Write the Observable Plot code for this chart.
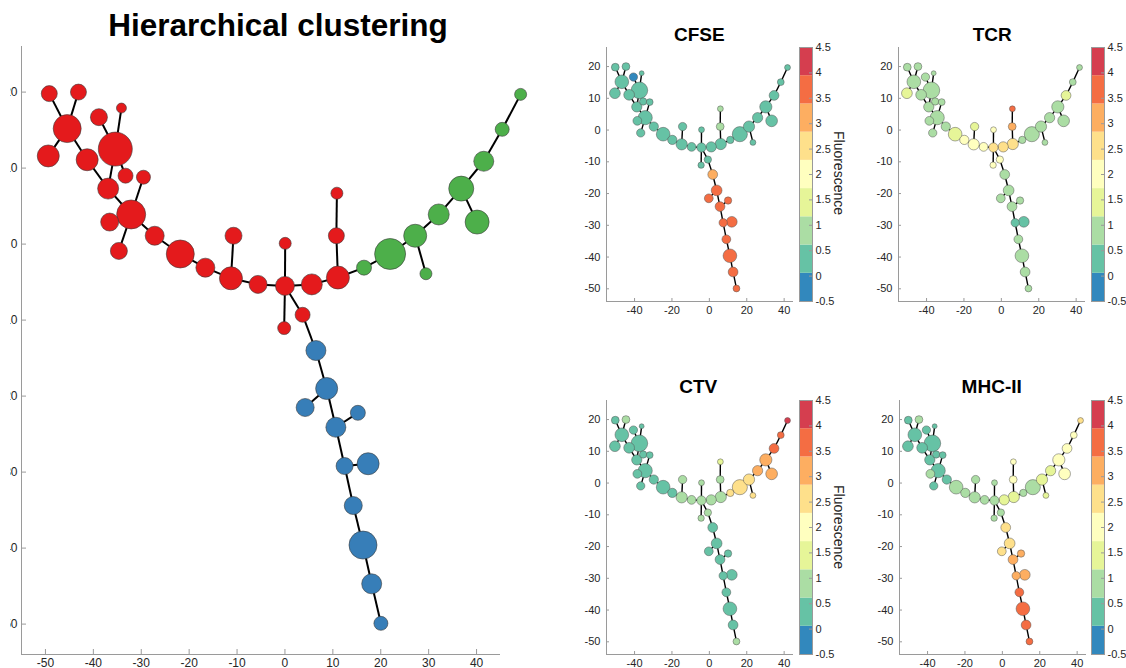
<!DOCTYPE html>
<html><head><meta charset="utf-8">
<script src="https://cdn.jsdelivr.net/npm/d3@7"></script>
<script src="https://cdn.jsdelivr.net/npm/@observablehq/plot@0.6"></script>
<style>
html,body{margin:0;padding:0;background:#fff;}
#root{position:relative;width:1126px;height:668px;overflow:hidden;background:#fff;font-family:"Liberation Sans",Arial,Helvetica,sans-serif;}
#root svg{position:absolute;overflow:visible;max-width:none;}
.ttl{position:absolute;text-align:center;white-space:nowrap;color:#000;font-weight:bold;width:600px;}
.clip{position:absolute;overflow:hidden;}
.cblab{position:absolute;white-space:nowrap;color:#262626;font-size:14px;transform:translate(-50%,-50%) rotate(90deg);}
</style></head><body><div id="root"></div>
<script>
// ---------------- data ----------------
const ids = ["n1","n2","n3","n4","n5","n6","n7","n8","n9","n10","n11","n12","n13","n14","n15","n16","n17","n18","n19","n20",
  "n21","n22","n23","n24","n25","n26","n27","n28","n29","n30","n31","n32","n33","n34","n35","n36","n37","n38",
  "b1","b2","b3","b4","b5","b6","b7","b8","b9","b10","b11"];
const nodeX = [-50.3,-44.6,-40.6,-36.2,-46.8,-37.4,-50.5,-42.9,-35.4,-31.9,-38.8,-34.3,-38.5,-36.7,-29.7,-24.7,-19.8,-14.3,-14.8,-9.5,
  -4.2,-4.25,-4.4,-0.8,1.0,6.1,5.8,5.9,11.2,16.3,21.2,23.3,25.8,30.2,33.3,34.6,38.2,41.8,
  1.8,3.9,-0.3,5.7,10.0,7.4,12.0,9.1,11.0,12.7,14.5];
const nodeY = [19.8,20.0,16.7,17.9,15.2,12.5,11.6,11.1,9.0,8.8,7.3,3.9,2.9,-0.9,1.1,-1.3,-3.1,1.1,-4.5,-5.3,
  0.1,-5.5,-11.05,-9.3,-5.3,-4.4,1.1,6.7,-3.1,-1.3,1.1,-3.9,3.9,7.3,2.9,10.9,15.1,19.7,
  -14.0,-19.0,-21.5,-24.1,-22.2,-29.2,-28.9,-34.4,-39.6,-44.7,-49.9];
const nodeSize = [8,8,8.5,5,14,17,11,11,7.5,7,10.5,14.5,9,8.5,9.5,14,9.5,8.5,11.5,9,
  6,9.5,6.5,7.5,10.5,11.5,8,6,7.5,15.5,11.5,6,10.5,12.5,12,10,7,6,
  10,11,9,10,7.5,8.5,11,9,14,10,7];
const nodeCluster = [...Array(28).fill("Cluster 1"), ...Array(10).fill("Cluster 2"), ...Array(11).fill("Cluster 3")];
const cfse = [0.3,0.35,-0.1,0.3,0.4,0.35,0.3,0.4,0.3,0.35,0.4,0.35,0.3,0.3,0.35,0.4,0.35,0.3,0.4,0.35,
  0.3,0.4,0.3,0.35,0.4,0.45,0.8,0.75,0.4,0.45,0.4,0.3,0.4,0.4,0.35,0.3,0.35,0.3,
  3.0,3.6,3.5,3.6,3.5,3.7,3.6,3.7,3.7,3.75,3.8];
const tcr = [0.9,0.85,0.8,0.8,0.9,0.85,1.4,0.9,0.9,0.85,0.9,0.95,0.9,0.85,0.9,1.5,1.9,1.45,2.0,1.95,
  2.1,2.6,2.0,2.05,2.6,2.7,3.0,3.6,1.0,0.95,0.9,0.85,0.9,0.95,0.9,1.4,0.9,0.85,
  0.9,0.9,0.85,0.85,0.8,0.5,0.45,0.8,0.85,0.8,0.8];
const ctv = [0.4,0.8,0.4,0.4,0.45,0.45,0.4,0.45,0.45,0.45,0.5,0.5,0.45,0.4,0.5,0.5,0.55,0.9,0.85,0.8,
  0.8,0.75,0.8,0.8,0.85,0.95,0.9,1.4,2.4,2.5,2.6,2.5,3.0,3.1,3.0,3.6,3.8,4.2,
  0.5,0.45,0.45,0.45,0.45,0.4,0.4,0.45,0.4,0.45,0.7];
const mhc = [0.4,0.8,0.45,0.45,0.4,0.45,0.4,0.45,0.5,0.5,0.45,0.5,0.75,0.45,0.55,0.85,0.8,0.85,0.85,0.8,
  0.8,0.9,0.75,0.8,1.5,1.5,2.0,1.9,1.0,1.0,1.4,1.4,1.6,1.9,2.0,2.1,2.2,2.5,
  2.5,2.6,2.5,2.9,3.0,3.1,3.0,3.5,3.6,3.6,3.7];
const edgeFrom = ["n1","n2","n7","n5","n8","n3","n4","n6","n9","n10","n11","n13","n14","n12","n15","n16","n17","n18","n19","n20",
  "n21","n23","n22","n22","n25","n27","n28","n26","n29","n30","n31","n31","n33","n34","n34","n36","n37",
  "n24","b1","b2","b2","b4","b4","b6","b6","b8","b9","b10"];
const edgeTo = ["n5","n5","n5","n8","n11","n6","n6","n11","n6","n12","n12","n12","n12","n15","n16","n17","n19","n19","n20","n22",
  "n22","n22","n24","n25","n26","n26","n27","n29","n30","n31","n32","n33","n34","n35","n36","n37","n38",
  "b1","b2","b3","b4","b5","b6","b7","b8","b9","b10","b11"];
const clusterNames = ["Cluster 1","Cluster 2","Cluster 3"];
const clusterColors = ["#e41a1c","#4daf4a","#377eb8"];
const xTicksMain = [-50,-40,-30,-20,-10,0,10,20,30,40];
const yTicks = [20,10,0,-10,-20,-30,-40,-50];
const xTicksSmall = [-40,-20,0,20,40];
const cbTicks = [-0.5,0,0.5,1,1.5,2,2.5,3,3.5,4,4.5];
const palette = ["#3288bd","#66c2a5","#abdda4","#e6f598","#ffffbf","#fee08b","#fdae61","#f46d43","#d53e4f"];
const cbDomain = [-0.5, 4.5];
// main panel x axis labelling (offset/scale of the main embedding axis)
const mainXShift = 4.25, mainXScale = 0.936;

// ---------------- build ----------------
const root = document.getElementById("root");
const FONT = '"Liberation Sans",Arial,Helvetica,sans-serif';
const AXIS = "#9a9a9a", TXT = "#262626";
const xDom = [-55, 45], yDom = [-54, 26];

const nodes = ids.map((id, i) => ({id, x: nodeX[i], y: nodeY[i], size: nodeSize[i], cluster: nodeCluster[i],
  CFSE: cfse[i], TCR: tcr[i], CTV: ctv[i], "MHC-II": mhc[i]}));
const byId = new Map(nodes.map(d => [d.id, d]));
const edges = edgeFrom.map((f, i) => ({a: byId.get(f), b: byId.get(edgeTo[i])}));
const mx = v => (v + mainXShift) / mainXScale;

function title(text, cx, baseline, fs) {
  const d = document.createElement("div");
  d.className = "ttl";
  d.textContent = text;
  d.style.fontSize = fs + "px";
  d.style.lineHeight = fs + "px";
  d.style.left = (cx - 300) + "px";
  d.style.top = (baseline - 0.8465 * fs) + "px";
  root.appendChild(d);
}

// main panel
{
  const ml = 40, mr = 40, mt = 46, mb = 30, FW = 479, FH = 608;
  const svg = Plot.plot({
    width: ml + FW + mr, height: mt + FH + mb,
    marginLeft: ml, marginRight: mr, marginTop: mt, marginBottom: mb,
    style: {fontFamily: FONT, fontSize: "12px", color: TXT, background: "transparent"},
    x: {domain: xDom, label: null},
    y: {domain: yDom, label: null},
    r: {type: "linear", domain: [0, 17], range: [0, 17]},
    color: {domain: clusterNames, range: clusterColors},
    marks: [
      Plot.ruleX([xDom[0]], {stroke: AXIS, strokeWidth: 1}),
      Plot.ruleY([yDom[0]], {stroke: AXIS, strokeWidth: 1}),
      Plot.tickX(xTicksMain, {x: d => d, stroke: AXIS, insetTop: FH - 5}),
      Plot.tickY(yTicks, {y: d => d, stroke: AXIS, insetRight: FW - 5}),
      Plot.axisX({ticks: xTicksMain, tickSize: 0, tickPadding: 4, label: null, tickFormat: d => String(d)}),
      Plot.axisY({ticks: yTicks, tickSize: 0, tickPadding: 4, label: null, tickFormat: d => String(d)}),
      Plot.link(edges, {x1: e => mx(e.a.x), y1: e => e.a.y, x2: e => mx(e.b.x), y2: e => e.b.y, stroke: "#000", strokeWidth: 2}),
      Plot.dot(nodes, {x: d => mx(d.x), y: "y", r: "size", fill: "cluster", stroke: "#3a3a3a", strokeWidth: 0.6})
    ]
  });
  const clip = document.createElement("div");
  clip.className = "clip";
  clip.style.left = "10px"; clip.style.top = "0px"; clip.style.width = "600px"; clip.style.height = "668px";
  svg.style.left = (21 - ml - 10) + "px";
  svg.style.top = "0px";
  clip.appendChild(svg);
  root.appendChild(clip);
  title("Hierarchical clustering", 278, 37, 31.5);
}

// small panels
const thresholds = palette.slice(1).map((_, i) => cbDomain[0] + (i + 1) * (cbDomain[1] - cbDomain[0]) / palette.length);
const cbBins = palette.map((_, i) => {
  const lo = cbDomain[0] + i * (cbDomain[1] - cbDomain[0]) / palette.length;
  const hi = cbDomain[0] + (i + 1) * (cbDomain[1] - cbDomain[0]) / palette.length;
  return {lo, hi, mid: (lo + hi) / 2};
});
const colorOpts = {type: "threshold", domain: thresholds, range: palette};

const panels = [
  {key: "CFSE", fl: 605.7, ft: 46.6, tx: 699.3, tb: 40.7, cbx: 798.7, label: true},
  {key: "TCR", fl: 898.3, ft: 46.6, tx: 992.3, tb: 40.7, cbx: 1091, label: false},
  {key: "CTV", fl: 605.7, ft: 400, tx: 698.3, tb: 393.3, cbx: 798.7, label: true},
  {key: "MHC-II", fl: 898.7, ft: 400, tx: 991.7, tb: 393.3, cbx: 1091, label: false}
];
for (const p of panels) {
  const ml = 30, mr = 8, mt = 20, mb = 25, FW = 187, FH = 254;
  const svg = Plot.plot({
    width: ml + FW + mr, height: mt + FH + mb,
    marginLeft: ml, marginRight: mr, marginTop: mt, marginBottom: mb,
    style: {fontFamily: FONT, fontSize: "11px", color: TXT, background: "transparent"},
    x: {domain: xDom, label: null},
    y: {domain: yDom, label: null},
    r: {type: "linear", domain: [0, 17], range: [0, 8.3]},
    color: colorOpts,
    marks: [
      Plot.ruleX([xDom[0]], {stroke: AXIS, strokeWidth: 1}),
      Plot.ruleY([yDom[0]], {stroke: AXIS, strokeWidth: 1}),
      Plot.tickX(xTicksSmall, {x: d => d, stroke: AXIS, insetTop: FH - 3}),
      Plot.tickY(yTicks, {y: d => d, stroke: AXIS, insetRight: FW - 3}),
      Plot.axisX({ticks: xTicksSmall, tickSize: 0, tickPadding: 5, label: null, tickFormat: d => String(d)}),
      Plot.axisY({ticks: yTicks, tickSize: 0, tickPadding: 6, label: null, tickFormat: d => String(d)}),
      Plot.link(edges, {x1: e => e.a.x, y1: e => e.a.y, x2: e => e.b.x, y2: e => e.b.y, stroke: "#000", strokeWidth: 1.4}),
      Plot.dot(nodes, {x: "x", y: "y", r: "size", fill: p.key, stroke: "#555", strokeWidth: 0.5})
    ]
  });
  svg.style.left = (p.fl - ml) + "px";
  svg.style.top = (p.ft - mt) + "px";
  root.appendChild(svg);
  title(p.key, p.tx, p.tb, 19);

  // colour bar
  const cbW = 13, cbH = 254;
  const cb = Plot.plot({
    width: cbW + 32, height: cbH + 2,
    marginLeft: 0, marginRight: 32, marginTop: 1, marginBottom: 1,
    style: {fontFamily: FONT, fontSize: "11px", color: TXT, background: "transparent"},
    y: {domain: cbDomain, label: null},
    color: colorOpts,
    marks: [
      Plot.rect(cbBins, {y1: "lo", y2: "hi", fill: "mid"}),
      Plot.frame({stroke: AXIS}),
      Plot.tickY(cbTicks, {y: d => d, stroke: AXIS, insetLeft: cbW - 3}),
      Plot.axisY({anchor: "right", ticks: cbTicks, tickSize: 0, tickPadding: 3, label: null, tickFormat: d => String(d)})
    ]
  });
  cb.style.left = p.cbx + "px";
  cb.style.top = (p.ft - 1) + "px";
  root.appendChild(cb);
  if (p.label) {
    const l = document.createElement("div");
    l.className = "cblab";
    l.textContent = "Fluorescence";
    l.style.left = "839.3px";
    l.style.top = (p.ft + 126.5) + "px";
    root.appendChild(l);
  }
}
</script></body></html>
